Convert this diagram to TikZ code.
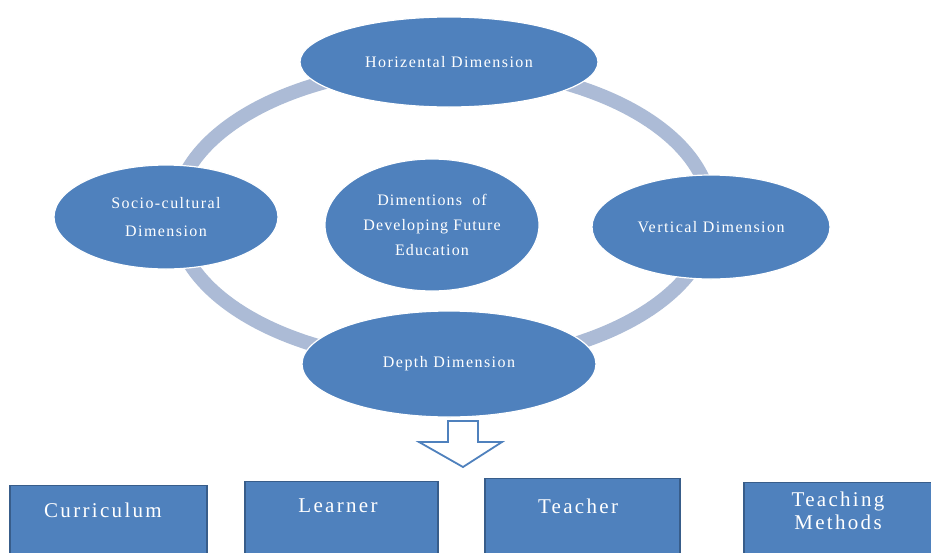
\documentclass[tikz,border=0pt]{standalone}
\usepackage{fontspec}
\setmainfont{Liberation Serif}
\usetikzlibrary{shapes.geometric}
\definecolor{ofblue}{RGB}{79,129,189}
\definecolor{ofdark}{RGB}{56,93,138}
\definecolor{ringc}{RGB}{172,187,214}
\tikzset{
  dim/.style={ellipse, fill=ofblue, draw=white, line width=1.2pt, inner sep=0pt,
    text=white, align=center, font=\fontsize{16}{28}\selectfont\addfontfeature{LetterSpace=9}},
  box/.style={rectangle, fill=ofblue, draw=ofdark, line width=1.2pt, inner sep=0pt},
  boxtext/.style={text=white, align=center, font=\fontsize{21}{23}\selectfont\addfontfeature{LetterSpace=11}},
}
\begin{document}
\begin{tikzpicture}[x=1pt,y=-1pt]
\clip (0,0) rectangle (931,552);
\fill[white] (0,0) rectangle (931,552);
% ring
\draw[ringc, line width=14pt] (443,215) ellipse [x radius=268pt, y radius=148pt];
% ellipses
\node[dim, minimum width=298pt, minimum height=90pt] (hor) at (449,62) {Horizental Dimension};
\node[dim, minimum width=224pt, minimum height=104pt] (soc) at (166,217) {Socio-cultural\\Dimension};
\node[dim, minimum width=238pt, minimum height=104pt] (ver) at (711,227) {Vertical Dimension};
\node[dim, minimum width=214pt, minimum height=132pt, font=\fontsize{16}{25}\selectfont\addfontfeature{LetterSpace=7}] (cen) at (432,225) {Dimentions\ \ of\\Developing Future\\Education};
\node[dim, minimum width=294pt, minimum height=106pt] (dep) at (449,364) {Depth Dimension};
% hollow arrow
\draw[ofblue, line width=1.8pt, fill=white, line join=miter]
  (448,421) -- (478,421) -- (478,442) -- (502,442) -- (463,467) -- (419,442) -- (448,442) -- cycle;
% boxes
\node[box, minimum width=197pt, minimum height=80pt, anchor=north] (cur) at (108.5,485) {};
\node[box, minimum width=193pt, minimum height=84pt, anchor=north] (lea) at (341.5,481) {};
\node[box, minimum width=195pt, minimum height=86pt, anchor=north] (tea) at (582.5,478) {};
\node[box, minimum width=188pt, minimum height=82pt, anchor=north] (met) at (838,482) {};
\node[boxtext] (curt) at (103,510) {Curriculum};
\node[boxtext] (leat) at (338,506) {Learner};
\node[boxtext] (teat) at (578,506) {Teacher};
\node[boxtext] (mett) at (838,511) {Teaching\\Methods};
\end{tikzpicture}
\end{document}
